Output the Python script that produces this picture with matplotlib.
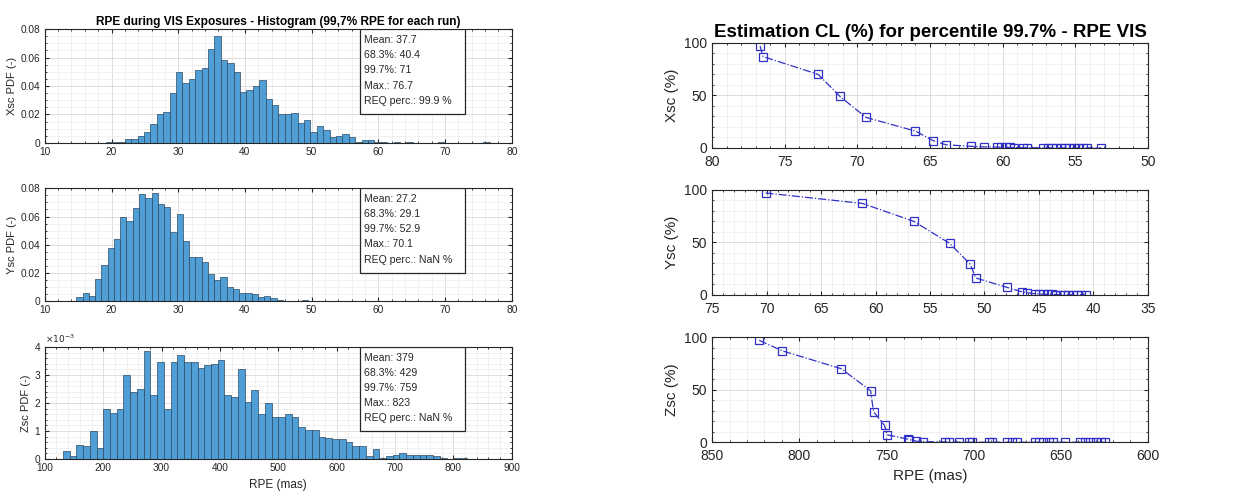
import numpy as np
import matplotlib.pyplot as plt
from matplotlib.ticker import MultipleLocator, AutoMinorLocator, FuncFormatter
from matplotlib.patches import Rectangle

plt.rcParams['font.family'] = ['Liberation Sans', 'DejaVu Sans']

# --- histogram data: PDF value of each of the 60 bins between min and max ---
xsc_range = (19.1, 76.7)
xsc_pdf = [0.0005, 0.0005, 0.001, 0.003, 0.003, 0.005, 0.008, 0.013, 0.020, 0.022,
           0.035, 0.050, 0.042, 0.045, 0.051, 0.053, 0.066, 0.075, 0.058, 0.056,
           0.050, 0.036, 0.037, 0.040, 0.044, 0.031, 0.027, 0.020, 0.020, 0.021,
           0.014, 0.016, 0.008, 0.012, 0.009, 0.004, 0.005, 0.006, 0.004, 0.001,
           0.002, 0.002, 0.001, 0.0005, 0.0003, 0.0005, 0.0003, 0.0005, 0.0, 0.0003,
           0.0003, 0.0, 0.0005, 0.0003, 0.0003, 0.0, 0.0, 0.0003, 0.0, 0.001]

ysc_range = (13.8, 70.1)
ysc_pdf = [0.0005, 0.003, 0.006, 0.004, 0.016, 0.026, 0.038, 0.044, 0.060, 0.057,
           0.066, 0.076, 0.073, 0.077, 0.069, 0.067, 0.049, 0.062, 0.043, 0.031,
           0.031, 0.028, 0.019, 0.015, 0.017, 0.010, 0.009, 0.006, 0.006, 0.005,
           0.003, 0.004, 0.002, 0.001, 0.0005, 0.0005, 0.0003, 0.001, 0.0005, 0.0005,
           0.0, 0.0, 0.0, 0.0003, 0.0, 0.0, 0.0005, 0.0, 0.0, 0.0005,
           0.0005, 0.0, 0.0, 0.0, 0.0, 0.0, 0.0, 0.0, 0.0, 0.0003]

zsc_range = (131.0, 823.0)
zsc_pdf_e3 = [0.3, 0.1, 0.5, 0.45, 1.0, 0.4, 1.8, 1.65, 1.8, 3.0,
              2.4, 2.5, 3.85, 2.3, 3.45, 1.8, 3.45, 3.7, 3.45, 3.45,
              3.25, 3.35, 3.4, 3.55, 2.3, 2.2, 3.2, 2.05, 2.45, 1.6,
              2.0, 1.5, 1.5, 1.6, 1.5, 1.15, 1.05, 1.05, 0.8, 0.75,
              0.7, 0.7, 0.6, 0.45, 0.45, 0.1, 0.35, 0.05, 0.1, 0.15,
              0.2, 0.15, 0.15, 0.15, 0.15, 0.1, 0.05, 0.0, 0.05, 0.05]

xsc_stats = ["Mean: 37.7", "68.3%: 40.4", "99.7%: 71", "Max.: 76.7", "REQ perc.: 99.9 %"]
ysc_stats = ["Mean: 27.2", "68.3%: 29.1", "99.7%: 52.9", "Max.: 70.1", "REQ perc.: NaN %"]
zsc_stats = ["Mean: 379", "68.3%: 429", "99.7%: 759", "Max.: 823", "REQ perc.: NaN %"]

# --- confidence level curves ---
xsc_rpe = [76.7, 76.5, 72.7, 71.2, 69.4, 66.0, 64.8, 63.9, 62.2, 61.3, 60.4, 60.1, 59.8,
           59.5, 59.2, 58.6, 58.3, 57.2, 56.9, 56.6, 56.3, 56.0, 55.7, 55.4, 55.1, 54.8,
           54.5, 54.2, 53.2]
xsc_cl = [97, 87, 70, 49, 29, 16, 7, 3, 1.5, 1, 0.8, 0.6, 0.5,
          0.4, 0.3, 0.2, 0.2, 0.1, 0.1, 0.1, 0.1, 0.1, 0, 0, 0, 0,
          0, 0, 0]

ysc_rpe = [70.1, 61.2, 56.5, 53.2, 51.3, 50.8, 47.9, 46.6, 46.1, 45.4, 45.0, 44.6, 44.2,
           43.8, 43.5, 43.1, 42.7, 42.3, 41.9, 41.5, 41.1, 40.7]
ysc_cl = [97, 87, 70, 49, 29, 16, 7, 3, 2, 1, 0.8, 0.5, 0.4,
          0.3, 0.2, 0, 0, 0, 0, 0, 0, 0]

zsc_rpe = [823.0, 809.7, 775.9, 759.1, 757.4, 751.1, 749.6, 737.8, 736.9, 733.0, 729.3,
           716.5, 714.0, 708.4, 702.7, 701.0, 691.3, 689.4, 680.8, 678.0, 675.1, 664.6,
           662.7, 659.9, 657.0, 654.2, 647.5, 639.0, 636.0, 633.0, 630.0, 627.0, 624.7]
zsc_cl = [97, 87, 70, 49, 29, 16, 7, 3, 2.5, 1, 0.5,
          0.3, 0.2, 0.1, 0, 0, 0, 0, 0, 0, 0, 0,
          0, 0, 0, 0, 0, 0, 0, 0, 0, 0, 0]

bar_color = '#4f9ed6'
line_color = '#3030c8'


def style_axes(ax, fs, xpad=3):
    ax.tick_params(which='both', direction='in', top=True, right=True,
                   labelsize=fs, colors='#262626', length=3)
    ax.tick_params(axis='x', pad=xpad)
    ax.tick_params(which='minor', length=1.5)
    for s in ax.spines.values():
        s.set_color('#262626')
        s.set_linewidth(0.8)
    ax.xaxis.set_minor_locator(AutoMinorLocator())
    ax.yaxis.set_minor_locator(AutoMinorLocator())
    ax.grid(True, which='major', color='#d8d8d8', linewidth=0.6)
    ax.grid(True, which='minor', color='#ececec', linewidth=0.5)
    ax.set_axisbelow(True)


def histogram(ax, rng, pdf, xlim, stats, ylabel):
    edges = np.linspace(rng[0], rng[1], len(pdf) + 1)
    ax.bar(edges[:-1], pdf, width=np.diff(edges), align='edge',
           color=bar_color, edgecolor='#2b4a63', linewidth=0.5)
    ax.set_xlim(*xlim)
    style_axes(ax, 7.3)
    ax.set_ylabel(ylabel, fontsize=8, labelpad=2, color='#262626')
    # stats text box in the upper right part
    ax.add_patch(Rectangle((0.675, 0.25), 0.225, 0.75, transform=ax.transAxes,
                           facecolor='white', edgecolor='#262626', linewidth=0.9, zorder=5))
    for i, s in enumerate(stats):
        ax.text(0.684, 0.905 - i * 0.134, s, transform=ax.transAxes, fontsize=7.6,
                va='center', ha='left', color='#262626', zorder=6)


fig = plt.figure(figsize=(12.45, 4.93), dpi=100)

ax1 = fig.add_axes([0.036, 0.710, 0.375, 0.231])
histogram(ax1, xsc_range, xsc_pdf, (10, 80), xsc_stats, 'Xsc PDF (-)')
ax1.set_ylim(0, 0.08)
ax1.yaxis.set_major_locator(MultipleLocator(0.02))
ax1.yaxis.set_major_formatter(FuncFormatter(lambda v, p: '0' if v == 0 else f'{v:.2f}'))
ax1.set_title('RPE during VIS Exposures - Histogram (99,7% RPE for each run)',
              fontsize=8.6, fontweight='bold', pad=3)

ax2 = fig.add_axes([0.036, 0.389, 0.375, 0.229])
histogram(ax2, ysc_range, ysc_pdf, (10, 80), ysc_stats, 'Ysc PDF (-)')
ax2.set_ylim(0, 0.08)
ax2.yaxis.set_major_locator(MultipleLocator(0.02))
ax2.yaxis.set_major_formatter(FuncFormatter(lambda v, p: '0' if v == 0 else f'{v:.2f}'))

ax3 = fig.add_axes([0.036, 0.069, 0.375, 0.227])
histogram(ax3, zsc_range, [v * 1e-3 for v in zsc_pdf_e3], (100, 900), zsc_stats, 'Zsc PDF (-)')
ax3.set_ylim(0, 0.004)
ax3.yaxis.set_major_locator(MultipleLocator(0.001))
ax3.yaxis.set_major_formatter(FuncFormatter(lambda v, p: f'{v * 1e3:.0f}'))
ax3.text(0.0, 1.02, r'$\times10^{-3}$', transform=ax3.transAxes, fontsize=6.5,
         ha='left', va='bottom', color='#262626')
ax3.set_xlabel('RPE (mas)', fontsize=8.5, labelpad=4, color='#262626')


def cl_plot(rect, rpe, cl, xlim, step, ylabel):
    ax = fig.add_axes(rect)
    ax.plot(rpe, cl, linestyle='-.', color=line_color, linewidth=0.9,
            marker='s', markersize=5.5, markerfacecolor='none',
            markeredgecolor=line_color, markeredgewidth=0.9)
    ax.set_xlim(*xlim)
    ax.set_ylim(0, 100)
    ax.xaxis.set_major_locator(MultipleLocator(step))
    ax.yaxis.set_major_locator(MultipleLocator(50))
    style_axes(ax, 10, xpad=5)
    ax.set_ylabel(ylabel, fontsize=11, color='#262626')
    return ax


ax4 = cl_plot([0.572, 0.700, 0.350, 0.213], xsc_rpe, xsc_cl, (80, 50), 5, 'Xsc (%)')
ax4.set_title('Estimation CL (%) for percentile 99.7% - RPE VIS',
              fontsize=13.5, fontweight='bold', pad=4)
ax5 = cl_plot([0.572, 0.402, 0.350, 0.213], ysc_rpe, ysc_cl, (75, 35), 5, 'Ysc (%)')
ax6 = cl_plot([0.572, 0.103, 0.350, 0.213], zsc_rpe, zsc_cl, (850, 600), 50, 'Zsc (%)')
ax6.set_xlabel('RPE (mas)', fontsize=11, color='#262626')

fig.savefig('out.png', dpi=100)
